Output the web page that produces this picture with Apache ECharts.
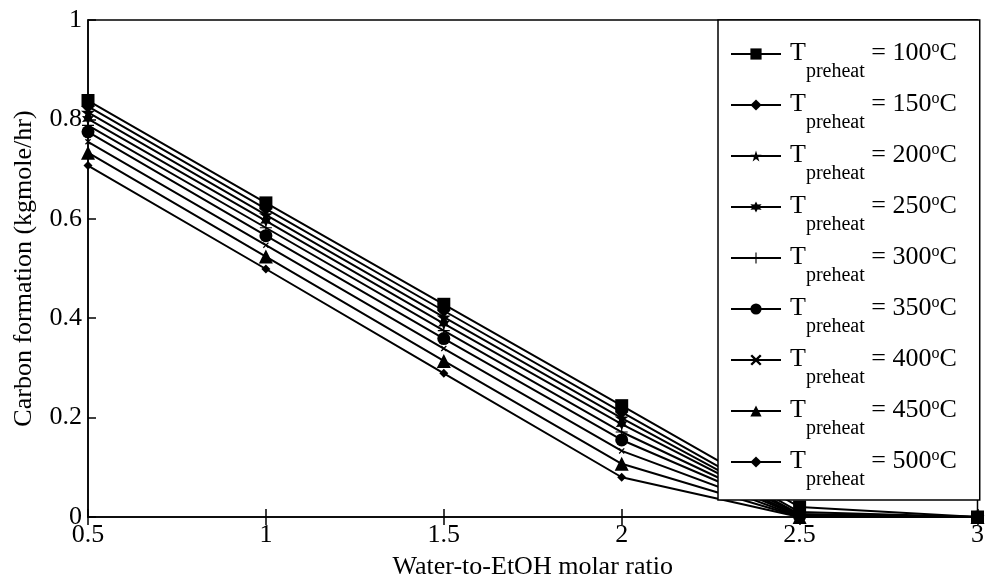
<!DOCTYPE html>
<html>
<head>
<meta charset="utf-8">
<script src="https://cdn.jsdelivr.net/npm/echarts@6/dist/echarts.min.js"></script>
<style>
  html, body { margin: 0; padding: 0; background: #fff; }
  #container { width: 987px; height: 585px; }
</style>
</head>
<body>
<div id="container"></div>
<script>
var chart = echarts.init(document.getElementById('container'));

// water-to-EtOH molar ratio
var ratios = [0.5, 1, 1.5, 2, 2.5, 3];
var temps = ['100', '150', '200', '250', '300', '350', '400', '450', '500'];

// carbon formation (kgmole/hr), one array per preheat temperature
var t100 = [0.838, 0.632, 0.428, 0.224, 0.020, 0];
var t150 = [0.826, 0.620, 0.415, 0.211, 0.010, 0];
var t200 = [0.814, 0.608, 0.402, 0.199, 0.006, 0];
var t250 = [0.801, 0.596, 0.389, 0.187, 0.004, 0];
var t300 = [0.788, 0.582, 0.375, 0.171, 0.002, 0];
var t350 = [0.775, 0.566, 0.359, 0.155, 0.001, 0];
var t400 = [0.755, 0.547, 0.339, 0.133, 0, 0];
var t450 = [0.733, 0.524, 0.314, 0.107, 0, 0];
var t500 = [0.707, 0.499, 0.289, 0.080, 0, 0];
var allValues = [t100, t150, t200, t250, t300, t350, t400, t450, t500];

var starPath = 'path://M50,0 L61,35 L98,35 L68,57 L79,91 L50,70 L21,91 L32,57 L2,35 L39,35 Z';
var hexPath = 'path://M50,0 L62,28 L93,25 L75,50 L93,75 L62,72 L50,100 L38,72 L7,75 L25,50 L7,25 L38,28 Z';
var plusPath = 'path://M45,0 L55,0 L55,45 L100,45 L100,55 L55,55 L55,100 L45,100 L45,55 L0,55 L0,45 L45,45 Z';
var xPath = 'path://M15,0 L50,35 L85,0 L100,15 L65,50 L100,85 L85,100 L50,65 L15,100 L0,85 L35,50 L0,15 Z';

var symbols = ['rect', 'diamond', starPath, hexPath, plusPath, 'circle', xPath, 'triangle', 'diamond'];
var sizes = [13, 13, 14, 12, 12, 13, 6, 14, 9];

var series = allValues.map(function (vals, i) {
    return {
        name: temps[i],
        type: 'line',
        data: ratios.map(function (x, j) { return [x, vals[j]]; }),
        symbol: symbols[i],
        symbolSize: sizes[i],
        showAllSymbol: true,
        lineStyle: { color: '#000', width: 2 },
        itemStyle: { color: '#000' },
        z: 3
    };
});

var font = 'Liberation Serif';

var option = {
    backgroundColor: '#fff',
    animation: false,
    grid: {
        left: 88, right: 7, top: 20, bottom: 63,
        show: true, borderColor: '#000', borderWidth: 1.5,
        containLabel: false
    },
    legend: {
        orient: 'vertical',
        left: 718,
        top: 20,
        padding: [20, 23, 10, 12],
        itemWidth: 50,
        itemHeight: 14,
        itemGap: 9,
        backgroundColor: '#fff',
        borderColor: '#000',
        borderWidth: 1.5,
        data: temps,
        formatter: function (name) {
            return '{t0|T}{sub|preheat}{t| = ' + name + '}{sup|o}{t|C}';
        },
        textStyle: {
            fontFamily: font,
            color: '#000',
            rich: {
                t0: { fontFamily: font, fontSize: 26, lineHeight: 28, color: '#000', verticalAlign: 'top', padding: [0, 0, 0, 4] },
                t: { fontFamily: font, fontSize: 26, lineHeight: 28, color: '#000', verticalAlign: 'top', padding: [0, 0, 0, 0] },
                sub: { fontFamily: font, fontSize: 20, lineHeight: 22, color: '#000', verticalAlign: 'top', padding: [22, 0, 0, 0] },
                sup: { fontFamily: font, fontSize: 16, lineHeight: 18, color: '#000', verticalAlign: 'top', padding: [0, 0, 0, 0] }
            }
        }
    },
    xAxis: [{
        type: 'value',
        min: 0.5, max: 3, interval: 0.5,
        name: 'Water-to-EtOH molar ratio',
        nameLocation: 'middle',
        nameGap: 37,
        nameTextStyle: { fontFamily: font, fontSize: 26, color: '#000' },
        axisLine: { show: true, lineStyle: { color: '#000', width: 1.5 } },
        axisTick: { show: true, inside: true, length: 8, lineStyle: { color: '#000', width: 1.5 } },
        axisLabel: { fontFamily: font, fontSize: 26, color: '#000', margin: 5 },
        splitLine: { show: false }
    }, {
        type: 'value', position: 'top',
        min: 0.5, max: 3, interval: 0.5,
        axisLine: { show: false },
        axisTick: { show: true, inside: true, length: 8, lineStyle: { color: '#000', width: 1.5 } },
        axisLabel: { show: false },
        splitLine: { show: false }
    }],
    yAxis: [{
        type: 'value',
        min: 0, max: 1, interval: 0.2,
        name: 'Carbon formation (kgmole/hr)',
        nameLocation: 'middle',
        nameGap: 51,
        nameTextStyle: { fontFamily: font, fontSize: 26, color: '#000' },
        axisLine: { show: true, lineStyle: { color: '#000', width: 1.5 } },
        axisTick: { show: true, inside: true, length: 8, lineStyle: { color: '#000', width: 1.5 } },
        axisLabel: {
            fontFamily: font, fontSize: 26, color: '#000', margin: 6,
            formatter: function (v) { return String(Math.round(v * 10) / 10); }
        },
        splitLine: { show: false }
    }, {
        type: 'value', position: 'right',
        min: 0, max: 1, interval: 0.2,
        axisLine: { show: false },
        axisTick: { show: true, inside: true, length: 8, lineStyle: { color: '#000', width: 1.5 } },
        axisLabel: { show: false },
        splitLine: { show: false }
    }],
    series: series
};

chart.setOption(option);

window.addEventListener('resize', function () {
    chart.resize();
});
</script>
</body>
</html>
